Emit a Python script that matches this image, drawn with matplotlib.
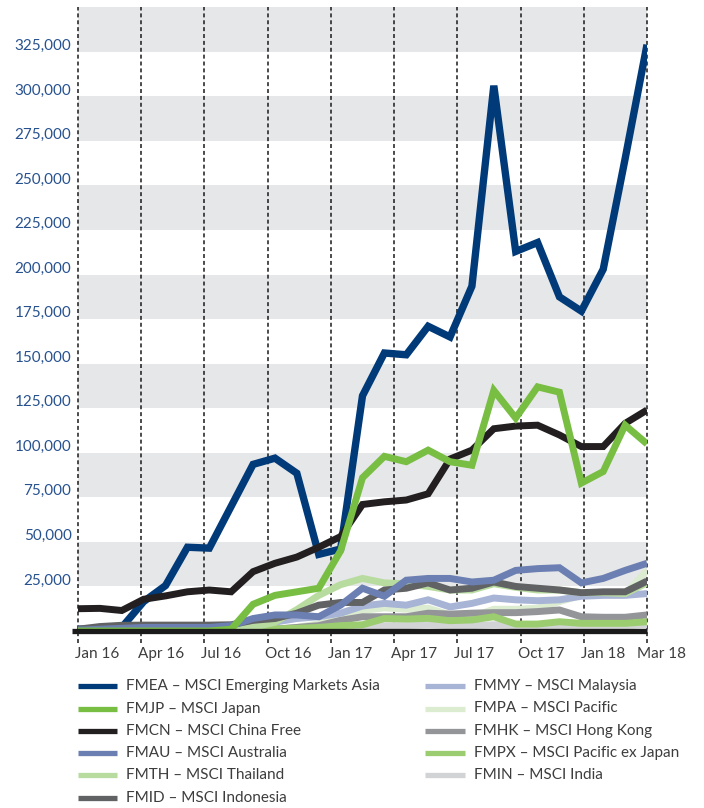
import numpy as np
import matplotlib
matplotlib.use("Agg")
import matplotlib.pyplot as plt
import matplotlib.transforms as mtransforms
from matplotlib.lines import Line2D

plt.rcParams['font.family'] = ['Lato', 'DejaVu Sans']

# ---------------- data ----------------
x_labels = ["Jan 16", "Apr 16", "Jul 16", "Oct 16", "Jan 17", "Apr 17",
            "Jul 17", "Oct 17", "Jan 18", "Mar 18"]
y_ticks = [25000, 50000, 75000, 100000, 125000, 150000, 175000, 200000,
           225000, 250000, 275000, 300000, 325000]

FMEA = [1000, 1000, 2000, 16500, 25500, 47000, 46500, 70000, 93500, 97000, 88500, 43000, 46000,
        132000, 156000, 155000, 171000, 165000, 193500, 306000, 213000, 218000, 187500, 179500,
        203000, 265000, 329000]
FMJP = [0, 0, 0, 0, 0, 0, 0, 1000, 15000, 20000, 22000, 24000, 45000, 86000, 98000, 95000,
        101500, 95000, 93000, 135000, 119500, 137000, 134000, 83000, 89500, 115500, 105000]
FMCN = [12500, 12700, 11500, 17800, 19700, 22000, 23000, 22000, 33300, 38000, 41500, 47000,
        53000, 71000, 72500, 73500, 77000, 96500, 101500, 113500, 115000, 115500, 110000,
        103500, 103500, 116500, 124000]
FMAU = [500, 1000, 1500, 2000, 2000, 2000, 2000, 3000, 7000, 9000, 9000, 8000, 14500, 24000,
        19500, 28500, 29500, 29500, 27500, 28500, 34000, 35000, 35500, 27000, 29500, 34000, 38000]
FMTH = [500, 500, 500, 500, 500, 500, 500, 1000, 2000, 5000, 12000, 20000, 26000, 29500, 27000,
        26500, 25000, 23000, 23000, 26500, 24500, 23000, 23000, 21500, 21500, 21000, 27000]
FMID = [1000, 2500, 3200, 3300, 3300, 3300, 3300, 3500, 6000, 7000, 10000, 14500, 16000, 16000,
        23000, 24000, 27000, 23000, 24000, 27500, 25000, 24000, 23000, 21500, 22000, 22000, 28000]
FMMY = [500, 800, 1000, 1000, 1000, 1000, 1000, 1500, 3000, 5000, 7000, 8000, 10000, 14000,
        15500, 14500, 17500, 13500, 15500, 18500, 17500, 17000, 17500, 19500, 20000, 20000, 21000]
FMPA = [300, 300, 300, 300, 300, 300, 300, 500, 800, 1000, 2000, 4000, 8000, 11500, 13000,
        12200, 12800, 9000, 8000, 12200, 12200, 12800, 16500, 20000, 20500, 20500, 34000]
FMHK = [300, 300, 300, 300, 300, 300, 300, 500, 800, 1000, 2000, 3000, 6000, 8000, 8000, 8000,
        10000, 9500, 10000, 10300, 10300, 10900, 11800, 8000, 7700, 7700, 9000]
FMPX = [800, 800, 800, 800, 800, 800, 800, 800, 1000, 1200, 1500, 2000, 3000, 3500, 7000, 6700,
        7100, 5800, 6200, 8000, 3900, 3900, 5200, 4300, 4300, 4300, 5200]
FMIN = [200, 200, 200, 200, 200, 200, 200, 300, 500, 1000, 1500, 2000, 2500, 3000, 3000, 3000,
        3500, 3000, 3000, 3500, 3000, 3000, 3000, 3000, 3000, 3000, 3500]

series_names = ["FMEA \u2013 MSCI Emerging Markets Asia", "FMJP \u2013 MSCI Japan",
                "FMCN \u2013 MSCI China Free", "FMAU \u2013 MSCI Australia",
                "FMTH \u2013 MSCI Thailand", "FMID \u2013 MSCI Indonesia",
                "FMMY \u2013 MSCI Malaysia", "FMPA \u2013 MSCI Pacific",
                "FMHK \u2013 MSCI Hong Kong", "FMPX \u2013 MSCI Pacific ex Japan",
                "FMIN \u2013 MSCI India"]
series_values = [FMEA, FMJP, FMCN, FMAU, FMTH, FMID, FMMY, FMPA, FMHK, FMPX, FMIN]
colors = ["#003a78", "#78be43", "#231f20", "#6c7fb2", "#b8dca0", "#616264",
          "#a8b4d6", "#dcecd0", "#939598", "#9ccc70", "#d1d3d4"]
zorders = [3, 12, 11, 10, 8, 9, 7, 5, 6, 7.5, 4]

# ---------------- figure ----------------
W, H = 704, 808
fig = plt.figure(figsize=(W / 100, H / 100), dpi=100)
L, R, T, B = 78, 647, 7.3, 631
ax = fig.add_axes([L / W, 1 - B / H, (R - L) / W, (B - T) / H])
n = len(FMEA)
x = np.arange(n)
ax.set_xlim(0, n - 1)
ax.set_ylim(0, 350000)
for s in ax.spines.values():
    s.set_visible(False)
ax.set_xticks([])
ax.set_yticks([])

# gray bands
for lo in range(25000, 350000, 50000):
    ax.axhspan(lo, lo + 25000, color="#e6e7e8", lw=0, zorder=0)

# dashed vertical lines
tick_pos = np.linspace(0, n - 1, len(x_labels))
trans_xa = mtransforms.blended_transform_factory(ax.transData, ax.transAxes)
below = 11.5 / (B - T)
for tp in tick_pos:
    ax.add_line(Line2D([tp, tp], [-below, 1], transform=trans_xa, color="#1a1a1a",
                       lw=1.1, dashes=(2.6, 1.9), clip_on=False, zorder=1))

# series
for vals, c, z in zip(series_values, colors, zorders):
    ax.plot(x, vals, color=c, lw=5.0 if c != "#003a78" else 5.3,
            solid_joinstyle="miter", solid_capstyle="butt", zorder=z)

# baseline
ax.add_line(Line2D([-6.3 / (R - L), 1], [0, 0], transform=ax.transAxes, color="#1a1a1a",
                   lw=3.8, solid_capstyle="butt", clip_on=False, zorder=20))

# y labels
trans_ay = mtransforms.blended_transform_factory(ax.transAxes, ax.transData)
for v in y_ticks:
    off = mtransforms.ScaledTranslation(-6.5 / 100, 2.0 / 100, fig.dpi_scale_trans)
    ax.text(0, v, f"{v:,}", transform=trans_ay + off, ha="right", va="baseline",
            fontsize=11, color="#27528f")

# x labels
for i, (tp, lab) in enumerate(zip(tick_pos, x_labels)):
    dx = -3 if i < len(x_labels) - 1 else -10
    off = mtransforms.ScaledTranslation(dx / 100, -27 / 100, fig.dpi_scale_trans)
    ax.text(tp, 0, lab, transform=trans_xa + off, ha="left", va="baseline",
            fontsize=11, color="#3d3d3d")

# legend (manual, two columns)
rows_y = [686, 708.5, 731, 753, 775, 797.5]
col_x = [(78, 117, 126), (425, 465, 474)]
for k, (name, c) in enumerate(zip(series_names, colors)):
    col = 0 if k < 6 else 1
    row = k if k < 6 else k - 6
    hx0, hx1, tx = col_x[col]
    yy = 1 - rows_y[row] / H
    fig.add_artist(Line2D([hx0 / W, hx1 / W], [yy, yy], transform=fig.transFigure,
                          color=c, lw=3.8, solid_capstyle="butt"))
    fig.text(tx / W, yy, name, ha="left", va="center", fontsize=11, color="#3d3d3d")

fig.savefig("out.png", dpi=100)
